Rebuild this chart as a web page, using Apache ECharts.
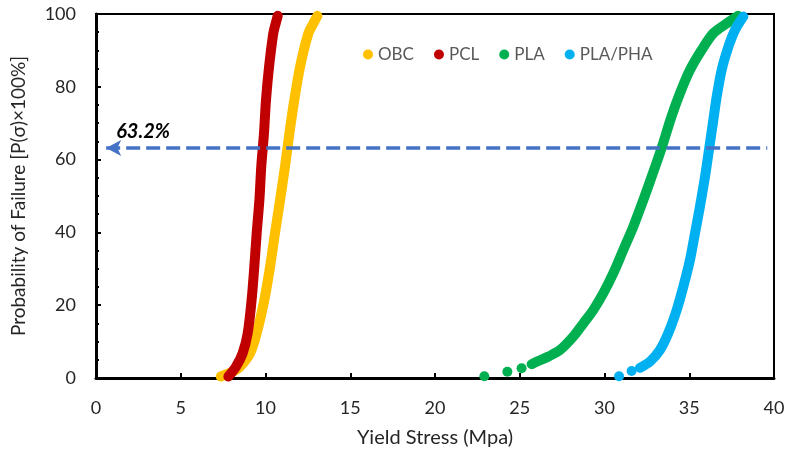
<!DOCTYPE html>
<html>
<head>
<meta charset="utf-8">
<script src="https://cdn.jsdelivr.net/npm/echarts@6/dist/echarts.min.js"></script>
<style>
  html, body { margin: 0; padding: 0; background: #fff; }
  #chart { width: 790px; height: 458px; }
</style>
</head>
<body>
<div id="chart"></div>
<script>
var seriesNames = ['OBC', 'PCL', 'PLA', 'PLA/PHA'];
var seriesColors = ['#FFC000', '#C00000', '#00B050', '#00B0F0'];

// [yield stress, probability of failure %]
var obcPoints = [[7.36, 0.4], [8.1, 1.8], [8.5, 3.1], [9.09, 6.8], [9.48, 12.3], [9.93, 21.4],
  [10.27, 30.6], [10.56, 39.8], [10.86, 48.9], [11.15, 58.1], [11.41, 67.2], [11.70, 76.4],
  [12.04, 85.5], [12.53, 94.7], [12.82, 97.4], [13.06, 99.5]];
var pclPoints = [[7.81, 0.4], [8.26, 3.1], [8.65, 6.8], [8.95, 12.3], [9.18, 21.4], [9.34, 30.6],
  [9.48, 39.8], [9.64, 48.9], [9.75, 58.1], [9.91, 67.2], [10.03, 76.4], [10.21, 85.5],
  [10.46, 94.7], [10.6, 97.4], [10.72, 99.5]];
var plaTail = [[22.91, 0.5], [24.27, 1.7], [25.11, 2.7]];
var plaPoints = [[25.70, 3.8], [26.16, 4.8], [26.69, 5.9], [27.38, 7.7], [28.16, 11.4], [28.75, 15.0],
  [29.34, 18.7], [29.93, 23.3], [30.52, 28.8], [31.11, 35.2], [31.70, 41.6], [32.29, 48.9],
  [32.85, 56.2], [33.37, 63.2], [33.95, 71.8], [34.45, 78.2], [35.04, 84.6], [35.73, 90.1],
  [36.42, 94.7], [37.21, 97.4], [37.89, 99.5]];
var phaTail = [[30.86, 0.5], [31.60, 1.9]];
var phaPoints = [[32.09, 2.8], [32.68, 4.5], [33.27, 7.7], [33.76, 12.3], [34.26, 18.7], [34.65, 25.1],
  [35.04, 32.4], [35.34, 39.8], [35.63, 47.1], [35.93, 55.3], [36.18, 63.2], [36.42, 70.9],
  [36.62, 77.3], [36.91, 84.6], [37.31, 91.0], [37.70, 95.6], [38.19, 99.3]];

var failureLevel = 63.2;
var arrowFrom = 39.6, arrowTo = 0.6;

var font = 'Lato, "Open Sans", sans-serif';
var chart = echarts.init(document.getElementById('chart'));

function curve(name, color, pts, extra) {
  var s = {
    name: name,
    type: 'line',
    data: pts,
    smooth: 0.3,
    symbol: 'none',
    lineStyle: { color: color, width: 10, cap: 'round', join: 'round' },
    itemStyle: { color: color },
    animation: false
  };
  if (extra) s.markLine = extra;
  return s;
}

function dots(name, color, pts) {
  return {
    name: name,
    type: 'scatter',
    data: pts,
    symbolSize: 10,
    itemStyle: { color: color, opacity: 1 },
    animation: false
  };
}

var arrowLine = {
  silent: true,
  symbol: ['arrow', 'none'],
  symbolSize: [12, 15],
  lineStyle: { color: '#4472C4', width: 3.5, type: [14, 6] },
  label: {
    show: true,
    position: 'insideStartTop',
    formatter: '63.2%',
    color: '#000',
    fontFamily: font,
    fontSize: 20,
    fontWeight: 'bold',
    fontStyle: 'italic',
    distance: [10, 6]
  },
  data: [[{ coord: [arrowTo, failureLevel] }, { coord: [arrowFrom, failureLevel] }]]
};

var option = {
  backgroundColor: '#fff',
  grid: { left: 96, right: 16, top: 14, bottom: 80, show: true, borderColor: '#000', borderWidth: 2 },
  legend: {
    data: seriesNames,
    icon: 'circle',
    itemWidth: 10,
    itemHeight: 10,
    itemGap: 20,
    left: 358,
    top: 41,
    textStyle: { color: '#595959', fontFamily: font, fontSize: 17 }
  },
  xAxis: {
    type: 'value',
    min: 0, max: 40, interval: 5,
    name: 'Yield Stress (Mpa)',
    nameLocation: 'middle',
    nameGap: 50,
    nameTextStyle: { color: '#262626', fontFamily: font, fontSize: 20 },
    axisLine: { lineStyle: { color: '#000', width: 3 } },
    axisTick: { inside: true, length: 5, lineStyle: { color: '#000', width: 2 } },
    axisLabel: { color: '#262626', fontFamily: font, fontSize: 18, margin: 21 },
    splitLine: { show: false }
  },
  yAxis: {
    type: 'value',
    min: 0, max: 100, interval: 20,
    name: 'Probability of Failure [P(σ)×100%]',
    nameLocation: 'middle',
    nameGap: 68,
    nameTextStyle: { color: '#262626', fontFamily: font, fontSize: 19 },
    axisLine: { lineStyle: { color: '#000', width: 3 } },
    axisTick: { inside: true, length: 5, lineStyle: { color: '#000', width: 2 } },
    minorTick: { show: true, splitNumber: 4, length: 3, lineStyle: { color: '#000', width: 2 } },
    axisLabel: { color: '#262626', fontFamily: font, fontSize: 18, margin: 20 },
    splitLine: { show: false }
  },
  series: [
    curve('OBC', seriesColors[0], obcPoints),
    curve('PCL', seriesColors[1], pclPoints),
    dots('PLA', seriesColors[2], plaTail),
    curve('PLA', seriesColors[2], plaPoints),
    dots('PLA/PHA', seriesColors[3], phaTail),
    curve('PLA/PHA', seriesColors[3], phaPoints, arrowLine)
  ]
};

chart.setOption(option);
window.onresize = function () {
  chart.resize();
};
</script>
</body>
</html>
